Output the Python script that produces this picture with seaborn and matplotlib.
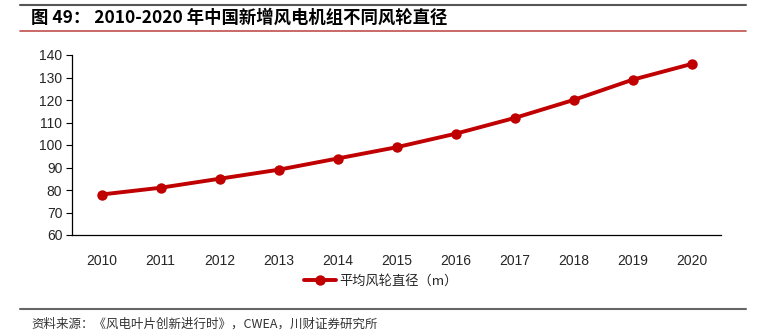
import matplotlib
matplotlib.use("Agg")
import matplotlib.pyplot as plt
import seaborn as sns
import pandas as pd
from matplotlib.lines import Line2D

years = ["2010", "2011", "2012", "2013", "2014", "2015", "2016", "2017", "2018", "2019", "2020"]
diameter = [78, 81, 85, 89, 94, 99, 105, 112, 120, 129, 136]
series_name = "平均风轮直径（m）"
y_ticks = [60, 70, 80, 90, 100, 110, 120, 130, 140]
title = "图 49： 2010-2020 年中国新增风电机组不同风轮直径"
source = "资料来源：《风电叶片创新进行时》，CWEA，川财证券研究所"

sns.set_theme(style="white")
plt.rcParams["font.family"] = ["Liberation Sans", "Noto Sans CJK SC", "DejaVu Sans"]

df = pd.DataFrame({"year": years, "value": diameter})
red = "#C00000"

fig = plt.figure(figsize=(7.71, 3.34), dpi=100)
ax = fig.add_axes([72 / 771, 1 - 235 / 334, (721 - 72) / 771, (235 - 55) / 334])

sns.lineplot(data=df, x="year", y="value", ax=ax, color=red, linewidth=2.8,
             marker="o", markersize=7.5, markeredgewidth=0, sort=False)

ax.set_xlim(-0.5, len(years) - 0.5)
ax.set_ylim(60, 140)
ax.set_yticks(y_ticks)
ax.set_xlabel("")
ax.set_ylabel("")
ax.tick_params(axis="y", left=True, length=4, width=0.8, color="black", labelsize=10, pad=3)
ax.tick_params(axis="x", bottom=False, labelsize=10, pad=8)
for s in ["top", "right"]:
    ax.spines[s].set_visible(False)
for s in ["left", "bottom"]:
    ax.spines[s].set_color("black")
    ax.spines[s].set_linewidth(0.9)

handle = Line2D([], [], color=red, linewidth=2.8, marker="o", markersize=7.5, markeredgewidth=0)
fig.legend([handle], [series_name], loc="center", bbox_to_anchor=(381 / 771, 1 - 281 / 334),
           frameon=False, handlelength=2.4, handletextpad=0.3,
           prop={"family": ["Noto Sans CJK SC"], "size": 9.5})

# header and footer rules
fig.add_artist(Line2D([20 / 771, 746 / 771], [1 - 5 / 334] * 2, color="#555555", linewidth=1.5))
fig.add_artist(Line2D([20 / 771, 746 / 771], [1 - 31 / 334] * 2, color="#C0504D", linewidth=1.2))
fig.add_artist(Line2D([20 / 771, 746 / 771], [1 - 309 / 334] * 2, color="#666666", linewidth=1.5))

fig.text(31 / 771, 1 - 18 / 334, title, fontsize=12.5, fontweight="bold", va="center", ha="left",
         family=["Noto Sans CJK SC"], color="black")
fig.text(31 / 771, 1 - 324 / 334, source, fontsize=9, va="center", ha="left",
         family=["Noto Sans CJK SC"], color="#333333", style="italic")

fig.savefig("out.png", dpi=100)
